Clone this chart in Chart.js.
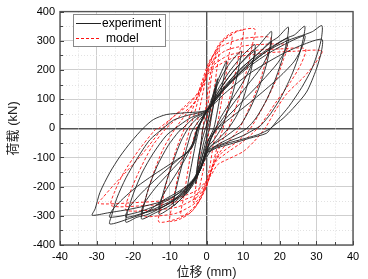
<!DOCTYPE html>
<html><head><meta charset="utf-8">
<script src="https://cdn.jsdelivr.net/npm/chart.js@4/dist/chart.umd.min.js"></script>
<style>html,body{margin:0;padding:0;background:#fff;overflow:hidden}</style>
</head><body>
<canvas id="c" width="368" height="279"></canvas>
<script>
// ---- axis ranges / ticks ----
const xTickValues = [-40,-30,-20,-10,0,10,20,30,40];
const yTickValues = [-400,-300,-200,-100,0,100,200,300,400];
const xTitle = '位移 (mm)';
const yTitle = '荷载 (kN)';
const seriesNames = ['experiment','model'];

// ---- experiment (black): displacement (mm) ----
const expDisp = [
 0,1,2,2.6,2.2,1.2,0.3,-0.8,-1.8,-2.6,-2.2,-1.2,-0.3,0.5,
 1.5,3,2.5,1.5,0.8,-0.5,-1.8,-3,-2.5,-1.6,-1,0,
 1.5,3,4.5,5.5,5,4,3,2,0.5,-1,-2.5,-4,-5.5,-5,-4,-3,-2,-1,0,
 2,4,6.5,9.5,9,8,6.5,5,4,2,0,-1.5,-4,-6.5,-9,-8.5,-7.3,-5.8,-4.3,-3.5,-1.5,0,
 3,6,9.5,13.2,13,12,10.5,8.5,6,3,0.5,-1.5,-4,-8,-12.9,-12.5,-11,-9,-7,-5,-2.5,0,
 4,8,13.2,12.7,10.5,7,4,2.5,1,-2,-6,-12.9,-12.3,-9.5,-6.5,-4,-2.8,-2.5,-1,0,
 3,7,12,14,17.7,17.5,16.5,14.5,12,9.5,8.2,5,1,-1.5,-5,-10,-14,-17.7,-17.2,-15.8,-13.5,-10.5,-7.5,-6.5,-3.5,0,
 4,9,14,17.7,17.2,15,11,7,4,2.5,1,-2,-7,-12,-17.7,-17.1,-14,-10,-6,-3.5,-2.5,-1,0,
 4,9,14,18,19.5,22.3,22.1,21,19,16.5,13.5,11,7,2,-1,-5,-10,-16,-19,-22,-21.5,-20,-17.5,-14.5,-11,-8.5,-4.5,0,
 5,10,16,22.3,21.8,19.5,15,10,5,3,1,-2,-8,-15,-22,-21.3,-18,-13,-8,-4,-2.8,-2.3,-1,0,
 4,10,16,22,24,26.8,26.6,25.5,23.5,20.5,17.5,15,13.6,10,5,0,-2.7,-7.3,-12,-16.4,-21,-26.4,-25.8,-24.5,-22,-19,-15.5,-11.8,-9,-5,0,
 5,11,18,26.8,26.3,24,19,13,7,4,3,1,0,-2,-9,-18,-26.4,-25.7,-22.7,-19,-14.5,-9,-4.5,-3,-2.5,-1,0,
 4,10,16,22,27,29,31.5,31.4,30.5,28.8,26,22.5,19.5,17.5,14,9,4,0,-2,-6,-12,-20,-27,-31.2,-30.4,-29.1,-26.4,-23.6,-20.5,-17.3,-14.5,-11,-6,0,
 5,12,20,26,31.5,31.4,30,27.3,23.6,20.9,17.7,16.4,11.8,7.3,2.7,0
];
// ---- experiment (black): load (kN) ----
const expLoad = [
 0,60,115,145,100,40,0,-50,-110,-150,-100,-40,0,30,
 100,170,120,50,0,-60,-130,-190,-130,-60,0,40,
 90,160,205,230,190,130,60,0,-40,-90,-150,-195,-225,-185,-120,-55,0,40,55,
 120,175,225,265,220,160,90,30,0,-40,-70,-130,-190,-235,-265,-220,-155,-85,-20,0,35,55,
 130,190,245,287,250,190,120,50,0,-40,-70,-135,-200,-255,-295,-255,-185,-110,-45,0,35,55,
 140,205,265,230,170,100,40,0,-45,-150,-220,-275,-240,-180,-120,-60,-10,0,30,55,
 120,190,260,280,332,290,225,145,70,15,0,-30,-65,-135,-210,-265,-290,-311,-270,-205,-130,-60,-10,0,35,58,
 130,200,255,299,265,210,145,80,25,0,-40,-150,-230,-270,-290,-260,-205,-150,-95,-45,0,35,58,
 125,200,255,300,312,347,310,250,175,100,35,0,-30,-65,-120,-200,-255,-295,-305,-322,-285,-225,-150,-85,-25,0,35,60,
 135,200,260,310,275,225,160,95,30,0,-40,-150,-235,-280,-305,-275,-225,-165,-110,-65,-20,0,35,60,
 125,205,265,310,320,350,318,260,190,110,50,12,0,-25,-50,-80,-169,-214,-248,-287,-309,-328,-295,-240,-170,-105,-40,0,28,45,62,
 135,205,265,318,285,230,165,100,40,10,0,-30,-60,-150,-235,-285,-305,-280,-240,-200,-160,-115,-75,-40,0,35,62,
 125,200,260,300,322,332,352,310,265,205,140,75,30,0,-22,-40,-58,-85,-150,-210,-250,-275,-290,-298,-276,-220,-152,-96,-45,0,30,47,53,62,
 120,190,250,285,305,265,203,124,68,34,2,-17,-34,-51,-68,-85
];

// ---- model (red dashed): displacement (mm) ----
const modelDisp = [
 0,0.6,1.5,2.5,3.5,2.8,2,1.2,0.8,0,-1,-2.2,-3.5,-2.8,-2,-1.3,-1,-0.3,0.5,
 1.5,3,5,7,6.2,5,3.8,2.8,1.8,0.8,-0.5,-2,-4.5,-7,-6.2,-5,-3.8,-2.8,-2,-1,0,
 1.5,3.5,6.5,10,9.2,7.8,6,4.5,3.2,2,0.5,-1.5,-4,-7,-10,-9.2,-7.8,-6,-4.5,-3.3,-2,-0.5,
 1,4.5,9,13.2,12.5,10.8,8.5,6,4,2.5,1,0,-3,-7,-13,-12.2,-10.5,-8.2,-6,-4.3,-2.5,-1,
 1,4,9,13,17.5,16.7,14.8,12,9,6,3.5,1.5,0,-3,-8,-13,-17.5,-16.6,-14.5,-11.8,-8.5,-5.8,-3,-1,
 1,5,10,16,22,21,18.8,15.5,12,8.5,4.5,2,0.5,-2.5,-8,-15,-22,-21,-18.5,-15,-11,-7,-3.5,-1.2,
 1,6,14,20,27,25.8,23,19,15,14,10,6,2.5,0.5,-2.5,-9,-17,-26,-25,-22.5,-18.5,-14,-13,-8.5,-4.5,-1.5,
 1,7,16,24,31.5,29.5,26.5,22,19,16,13,10,6,3,1,-3,-10,-20,-29.5,-28.2,-25,-22,-18,-15.5,-12,-9,-6,-3
];
// ---- model (red dashed): load (kN) ----
const modelLoad = [
 0,100,190,245,270,200,120,40,0,-70,-150,-215,-255,-190,-110,-30,0,60,140,
 215,270,305,320,255,160,70,0,-60,-140,-200,-250,-290,-300,-235,-140,-50,0,60,120,180,
 240,290,325,335,275,185,85,0,-50,-110,-180,-240,-285,-310,-318,-255,-165,-70,0,50,110,170,
 230,300,335,340,285,190,90,0,-50,-100,-150,-200,-265,-305,-321,-260,-165,-70,0,50,110,170,
 235,280,305,312,310,255,170,80,0,-45,-85,-140,-195,-255,-290,-300,-300,-240,-155,-70,0,45,95,160,
 220,265,282,288,285,235,160,75,0,-45,-80,-120,-180,-235,-270,-280,-280,-225,-150,-65,0,45,85,140,
 205,250,268,272,272,220,160,90,15,0,-45,-80,-115,-170,-225,-255,-265,-265,-215,-150,-75,-5,0,45,85,140,
 195,240,258,264,265,220,175,120,65,0,-45,-80,-105,-125,-165,-215,-245,-255,-258,-236,-190,-150,-95,-56,0,40,75,110
];

const FONT = '"Liberation Sans", Arial, "Noto Sans CJK SC", sans-serif';
const toPts = (xs, ys) => xs.map((x, i) => ({x, y: ys[i]}));

const framePlugin = {
  id: 'frame',
  beforeDatasetsDraw(chart) {
    const {ctx, chartArea: a, scales: {x, y}} = chart;
    ctx.save();
    ctx.strokeStyle = '#e2e2e2';
    ctx.lineWidth = 1;
    ctx.setLineDash([1, 2]);
    for (let v = -35; v < 40; v += 10) {
      const px = Math.round(x.getPixelForValue(v)) + 0.5;
      ctx.beginPath(); ctx.moveTo(px, a.top); ctx.lineTo(px, a.bottom); ctx.stroke();
    }
    for (let v = -350; v < 400; v += 100) {
      const py = Math.round(y.getPixelForValue(v)) + 0.5;
      ctx.beginPath(); ctx.moveTo(a.left, py); ctx.lineTo(a.right, py); ctx.stroke();
    }
    ctx.restore();
  },
  afterDatasetsDraw(chart) {
    const {ctx, chartArea: a, scales: {x, y}} = chart;
    ctx.save();
    ctx.strokeStyle = '#555';
    ctx.lineWidth = 1.4;
    ctx.strokeRect(a.left, a.top, a.right - a.left, a.bottom - a.top);
    ctx.lineWidth = 1;
    ctx.strokeStyle = '#444';
    for (let v = -40; v <= 40; v += 5) {
      const px = Math.round(x.getPixelForValue(v)) + 0.5;
      const len = (v % 10 === 0) ? 4 : 3;
      ctx.beginPath(); ctx.moveTo(px, a.bottom); ctx.lineTo(px, a.bottom - len); ctx.stroke();
    }
    for (let v = -400; v <= 400; v += 50) {
      const py = Math.round(y.getPixelForValue(v)) + 0.5;
      const len = (v % 100 === 0) ? 4 : 3;
      ctx.beginPath(); ctx.moveTo(a.left, py); ctx.lineTo(a.left + len, py); ctx.stroke();
    }
    // legend
    const ds = chart.data.datasets;
    ctx.fillStyle = '#fff';
    ctx.fillRect(73, 14, 92, 32);
    ctx.strokeStyle = '#888';
    ctx.lineWidth = 1;
    ctx.strokeRect(73.5, 14.5, 92, 32);
    ctx.font = '12px ' + FONT;
    ctx.textBaseline = 'middle';
    ctx.fillStyle = '#000';
    ctx.strokeStyle = ds[0].borderColor; ctx.setLineDash([]);
    ctx.beginPath(); ctx.moveTo(76, 23.5); ctx.lineTo(101, 23.5); ctx.stroke();
    ctx.fillText(ds[0].label, 102, 24);
    ctx.strokeStyle = ds[1].borderColor; ctx.setLineDash(ds[1].borderDash);
    ctx.beginPath(); ctx.moveTo(76, 38.5); ctx.lineTo(101, 38.5); ctx.stroke();
    ctx.setLineDash([]);
    ctx.fillText(ds[1].label, 106, 39);
    ctx.restore();
  }
};

const gridColor = c => (c.tick && c.tick.value === 0) ? '#555' : '#cfcfcf';
const gridWidth = c => (c.tick && c.tick.value === 0) ? 1.4 : 1;

new Chart(document.getElementById('c'), {
  type: 'scatter',
  data: {
    datasets: [
      { label: seriesNames[0], data: toPts(expDisp, expLoad), showLine: true, pointRadius: 0,
        borderColor: '#222', borderWidth: 0.9, tension: 0.25, fill: false },
      { label: seriesNames[1], data: toPts(modelDisp, modelLoad), showLine: true, pointRadius: 0,
        borderColor: '#ff1010', borderWidth: 0.9, borderDash: [3, 2], tension: 0.25, fill: false }
    ]
  },
  options: {
    responsive: false, animation: false, devicePixelRatio: 1,
    layout: { padding: { top: 8, right: 15, left: 0, bottom: 0 } },
    plugins: { legend: { display: false }, tooltip: { enabled: false } },
    scales: {
      x: {
        type: 'linear', min: -40, max: 40,
        afterBuildTicks: s => { s.ticks = xTickValues.map(v => ({value: v})); },
        ticks: { font: { family: FONT, size: 11 }, color: '#000', padding: 5, maxRotation: 0 },
        grid: { color: gridColor, lineWidth: gridWidth, drawTicks: false },
        border: { display: false },
        title: { display: true, text: xTitle, color: '#222', font: { family: FONT, size: 13, lineHeight: 1 }, padding: { top: 1, bottom: 0 } },
        afterFit: s => { s.height = 34; }
      },
      y: {
        type: 'linear', min: -400, max: 400,
        afterBuildTicks: s => { s.ticks = yTickValues.map(v => ({value: v})); },
        ticks: { font: { family: FONT, size: 11 }, color: '#000', padding: 5 },
        grid: { color: gridColor, lineWidth: gridWidth, drawTicks: false },
        border: { display: false },
        title: { display: true, text: yTitle, color: '#222', font: { family: FONT, size: 13 }, padding: { top: 6, bottom: 0 } },
        afterFit: s => { s.width = 60; }
      }
    }
  },
  plugins: [framePlugin]
});
</script>
</body></html>
